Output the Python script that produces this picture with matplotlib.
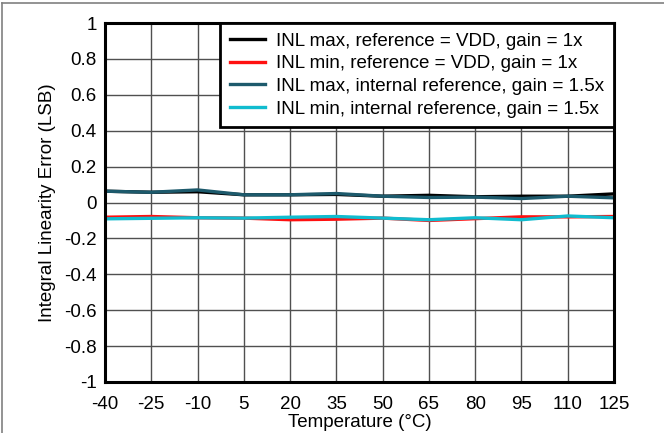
import matplotlib
matplotlib.use("Agg")
from matplotlib import pyplot as plt
from matplotlib.lines import Line2D

temps = [-40, -25, -10, 5, 20, 35, 50, 65, 80, 95, 110, 125]
inl_max_vdd = [0.063, 0.057, 0.060, 0.043, 0.043, 0.045, 0.035, 0.040, 0.032, 0.035, 0.035, 0.048]
inl_min_vdd = [-0.082, -0.078, -0.085, -0.087, -0.096, -0.093, -0.087, -0.100, -0.090, -0.080, -0.080, -0.078]
inl_max_int = [0.063, 0.057, 0.070, 0.043, 0.043, 0.050, 0.035, 0.028, 0.030, 0.022, 0.035, 0.026]
inl_min_int = [-0.091, -0.088, -0.085, -0.087, -0.082, -0.078, -0.087, -0.096, -0.085, -0.096, -0.075, -0.085]
y_ticks = [-1, -0.8, -0.6, -0.4, -0.2, 0, 0.2, 0.4, 0.6, 0.8, 1]
y_labels = ["-1", "-0.8", "-0.6", "-0.4", "-0.2", "0", "0.2", "0.4", "0.6", "0.8", "1"]

plt.rcParams["font.family"] = ["Liberation Sans", "DejaVu Sans"]
fs = 13.5

fig = plt.figure(figsize=(6.64, 4.33), dpi=100)
ax = fig.add_axes([105 / 664, 1 - 382 / 433, 509 / 664, 359 / 433])

ax.plot(temps, inl_max_vdd, color="black", lw=2.4, label="INL max, reference = VDD, gain = 1x")
ax.plot(temps, inl_min_vdd, color="#ff1010", lw=2.4, label="INL min, reference = VDD, gain = 1x")
ax.plot(temps, inl_max_int, color="#1d5a6c", lw=2.4, label="INL max, internal reference, gain = 1.5x")
ax.plot(temps, inl_min_int, color="#10bccf", lw=2.4, label="INL min, internal reference, gain = 1.5x")

ax.set_xlim(-40, 125)
ax.set_ylim(-1, 1)
ax.set_xticks(temps)
ax.set_xticklabels([str(t) for t in temps])
ax.set_yticks(y_ticks)
ax.set_yticklabels(y_labels)
ax.tick_params(axis="x", length=0, labelsize=fs, pad=10, colors="black")
ax.tick_params(axis="y", length=0, labelsize=fs, pad=6, colors="black")
ax.grid(True, color="#505050", lw=1)
ax.set_axisbelow(True)
for s in ax.spines.values():
    s.set_linewidth(2.2)

ax.set_xlabel("Temperature (°C)", fontsize=fs, labelpad=1)
ax.set_ylabel("Integral Linearity Error (LSB)", fontsize=fs, labelpad=6)

leg = ax.legend(loc="upper right", fontsize=fs, frameon=True, fancybox=False,
                borderaxespad=0, handlelength=1.9, labelspacing=0.3,
                borderpad=0.5, handletextpad=0.6)
leg.get_frame().set_edgecolor("black")
leg.get_frame().set_linewidth(2)
leg.get_frame().set_alpha(1)

# figure frame (top and left edges visible)
fig.add_artist(Line2D([1.5 / 664, 1.5 / 664], [0, 1 - 3 / 433], transform=fig.transFigure, color="#808080", lw=1.2))
fig.add_artist(Line2D([1.5 / 664, 1], [1 - 3 / 433, 1 - 3 / 433], transform=fig.transFigure, color="#808080", lw=1.2))

fig.savefig("out.png", dpi=100)
